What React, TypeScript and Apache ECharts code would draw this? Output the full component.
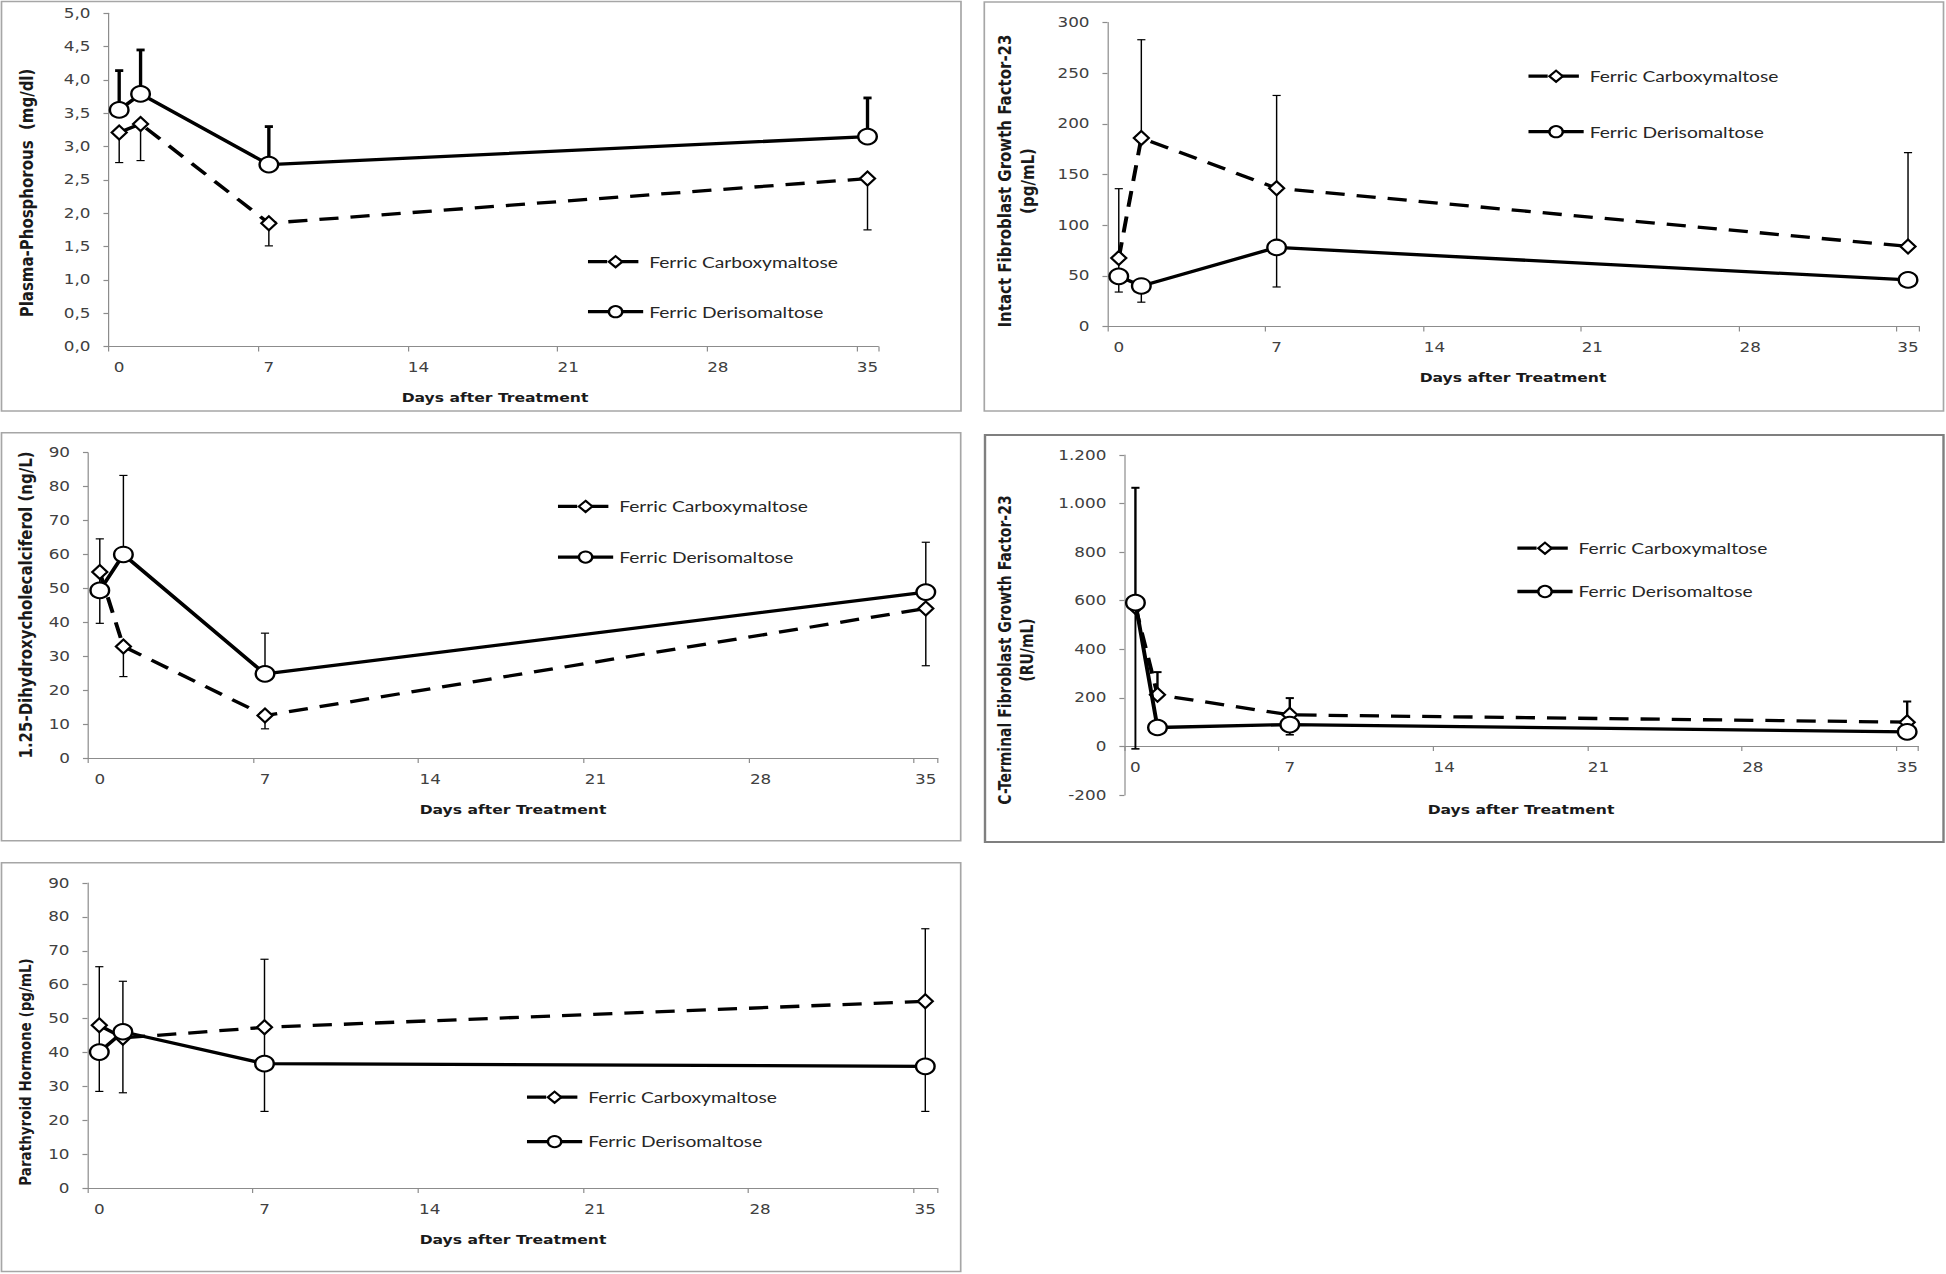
import React, { useEffect, useRef } from 'react';
import * as echarts from 'echarts';

// Horizontal stretch of the original figure (markers and glyphs are wider than tall)
const S = 1.2;
const W = 1621;
const H = 1274;
const X = (v: number) => v / S;

const FCM = 'Ferric Carboxymaltose';
const FDI = 'Ferric Derisomaltose';

// x axis: days 0..35 as categories, data measured on days 0, 1, 7, 35
const dayCategories = ['0','1','2','3','4','5','6','7','8','9','10','11','12','13','14','15','16','17','18','19','20','21','22','23','24','25','26','27','28','29','30','31','32','33','34','35'];
const days = [0, 1, 7, 35];

// Panel 1: Plasma-Phosphorous (mg/dl)
const phosAxis = [0, 5, 0.5];
const phosFcm = [3.21, 3.34, 1.85, 2.52];
const phosFcmLow = [2.76, 2.79, 1.51, 1.75];
const phosFcmHigh = [3.21, 3.34, 1.85, 2.52];
const phosFdi = [3.55, 3.79, 2.73, 3.15];
const phosFdiLow = [3.55, 3.79, 2.73, 3.15];
const phosFdiHigh = [4.14, 4.45, 3.30, 3.73];

// Panel 2: Intact FGF-23 (pg/mL)
const iFgfAxis = [0, 300, 50];
const iFgfFcm = [67.5, 186, 136.5, 79];
const iFgfFcmLow = [67.5, 186, 136.5, 79];
const iFgfFcmHigh = [136, 283, 228, 171.5];
const iFgfFdi = [49.5, 40, 78, 46];
const iFgfFdiLow = [34, 24, 39, 46];
const iFgfFdiHigh = [67.5, 40, 136.5, 46];

// Panel 3: 1.25-Dihydroxycholecalciferol (ng/L)
const vitdAxis = [0, 90, 10];
const vitdFcm = [54.8, 32.9, 12.5, 44.1];
const vitdFcmLow = [39.7, 24.0, 8.6, 27.2];
const vitdFcmHigh = [54.8, 32.9, 12.5, 44.1];
const vitdFdi = [49.4, 60.0, 24.8, 48.9];
const vitdFdiLow = [49.4, 60.0, 24.8, 48.9];
const vitdFdiHigh = [64.6, 83.3, 36.8, 63.6];

// Panel 4: C-Terminal FGF-23 (RU/mL)
const cFgfAxis = [-200, 1200, 200];
const cFgfFcm = [574, 213, 130, 100];
const cFgfFcmLow = [574, 213, 130, 100];
const cFgfFcmHigh = [1065, 306, 199, 185];
const cFgfFdi = [592, 78, 90, 60];
const cFgfFdiLow = [-10, 78, 48, 60];
const cFgfFdiHigh = [592, 78, 130, 60];

// Panel 5: Parathyroid Hormone (pg/mL)
const pthAxis = [0, 90, 10];
const pthFcm = [48, 44.3, 47.4, 55.1];
const pthFcmLow = [48, 44.3, 47.4, 55.1];
const pthFcmHigh = [65.3, 61.0, 67.5, 76.5];
const pthFdi = [40.1, 46.1, 36.7, 35.9];
const pthFdiLow = [28.5, 28.1, 22.6, 22.6];
const pthFdiHigh = [48, 46.1, 47.4, 55.1];

const comma1 = (v: number) => v.toFixed(1).replace('.', ',');
const thousandDot = (v: number) => String(v).replace(/\B(?=(\d{3})+(?!\d))/g, '.');
const plain = (v: number) => String(v);

type Panel = {
  yTitle: string;
  yTitleSize: number;
  axis: number[];
  fmt: (v: number) => string;
  fcm: number[]; fcmLow: number[]; fcmHigh: number[];
  fdi: number[]; fdiLow: number[]; fdiHigh: number[];
  fcmErrW: number; fdiErrW: number;
  // layout (full-size px)
  left: number; right: number; top: number; bottom: number;
  xAxisOffset: number;
  box: number[]; boxColor: string; boxW: number;
  yTitleX: number; yTitleY: number;
  xTitleX: number; xTitleY: number;
  legX: number; legY: number[];
};

const panels: Panel[] = [
  {
    yTitle: 'Plasma-Phosphorous  (mg/dl)', yTitleSize: 15, axis: phosAxis, fmt: comma1,
    fcm: phosFcm, fcmLow: phosFcmLow, fcmHigh: phosFcmHigh,
    fdi: phosFdi, fdiLow: phosFdiLow, fdiHigh: phosFdiHigh,
    fcmErrW: 1.2, fdiErrW: 2.8,
    left: 108.5, right: 878.2, top: 13.3, bottom: 346.5, xAxisOffset: 0,
    box: [1.5, 1.5, 961, 411], boxColor: '#a6a6a6', boxW: 1.4,
    yTitleX: 27, yTitleY: 193, xTitleX: 495, xTitleY: 397,
    legX: 586, legY: [261.7, 311.7],
  },
  {
    yTitle: 'Intact Fibroblast Growth Factor-23\n(pg/mL)', yTitleSize: 15, axis: iFgfAxis, fmt: plain,
    fcm: iFgfFcm, fcmLow: iFgfFcmLow, fcmHigh: iFgfFcmHigh,
    fdi: iFgfFdi, fdiLow: iFgfFdiLow, fdiHigh: iFgfFdiHigh,
    fcmErrW: 1.2, fdiErrW: 1.2,
    left: 1107.5, right: 1919.3, top: 22.5, bottom: 326.5, xAxisOffset: 0,
    box: [984.3, 2, 1943.5, 411], boxColor: '#a6a6a6', boxW: 1.4,
    yTitleX: 1016.5, yTitleY: 181, xTitleX: 1513, xTitleY: 377.5,
    legX: 1526.5, legY: [76.2, 131.7],
  },
  {
    yTitle: '1.25-Dihydroxycholecalciferol (ng/L)', yTitleSize: 15, axis: vitdAxis, fmt: plain,
    fcm: vitdFcm, fcmLow: vitdFcmLow, fcmHigh: vitdFcmHigh,
    fdi: vitdFdi, fdiLow: vitdFdiLow, fdiHigh: vitdFdiHigh,
    fcmErrW: 1.2, fdiErrW: 1.2,
    left: 88, right: 937.6, top: 452.7, bottom: 758, xAxisOffset: 0,
    box: [1.5, 432.7, 960.7, 840.7], boxColor: '#a6a6a6', boxW: 1.4,
    yTitleX: 26, yTitleY: 605, xTitleX: 513, xTitleY: 809,
    legX: 556, legY: [506.4, 557.1],
  },
  {
    yTitle: 'C-Terminal Fibroblast Growth Factor-23\n(RU/mL)', yTitleSize: 14, axis: cFgfAxis, fmt: thousandDot,
    fcm: cFgfFcm, fcmLow: cFgfFcmLow, fcmHigh: cFgfFcmHigh,
    fdi: cFgfFdi, fdiLow: cFgfFdiLow, fdiHigh: cFgfFdiHigh,
    fcmErrW: 2.0, fdiErrW: 1.6,
    left: 1124.4, right: 1918.2, top: 455, bottom: 795, xAxisOffset: -49,
    box: [985, 435, 1943.5, 842], boxColor: '#7f7f7f', boxW: 2,
    yTitleX: 1016.5, yTitleY: 650, xTitleX: 1521, xTitleY: 809.5,
    legX: 1515.4, legY: [548.2, 591.5],
  },
  {
    yTitle: 'Parathyroid Hormone (pg/mL)', yTitleSize: 13.5, axis: pthAxis, fmt: plain,
    fcm: pthFcm, fcmLow: pthFcmLow, fcmHigh: pthFcmHigh,
    fdi: pthFdi, fdiLow: pthFdiLow, fdiHigh: pthFdiHigh,
    fcmErrW: 1.2, fdiErrW: 1.2,
    left: 87.5, right: 937.1, top: 883, bottom: 1188, xAxisOffset: 0,
    box: [1.5, 862.7, 960.7, 1271.5], boxColor: '#a6a6a6', boxW: 1.4,
    yTitleX: 26, yTitleY: 1072, xTitleX: 513, xTitleY: 1239,
    legX: 525, legY: [1097.2, 1141.6],
  },
];

const AX = '#8c8c8c';
const TICK_FONT = 'DejaVu Sans';
const TICK_SIZE = 14;

function makeErr(width: number, cap: number) {
  return (params: any, api: any) => {
    const x = api.value(0);
    const lo = api.value(1);
    const hi = api.value(2);
    const v = api.value(3);
    if (hi - lo < 1e-9) return null;
    const pLo = api.coord([x, lo]);
    const pHi = api.coord([x, hi]);
    const st = { stroke: '#000', lineWidth: width };
    const children: any[] = [
      { type: 'line', shape: { x1: pLo[0], y1: pLo[1], x2: pHi[0], y2: pHi[1] }, style: st },
    ];
    if (lo < v) children.push({ type: 'line', shape: { x1: pLo[0] - cap, y1: pLo[1], x2: pLo[0] + cap, y2: pLo[1] }, style: st });
    if (hi > v) children.push({ type: 'line', shape: { x1: pHi[0] - cap, y1: pHi[1], x2: pHi[0] + cap, y2: pHi[1] }, style: st });
    return { type: 'group', children };
  };
}

function buildOption() {
  const grid: any[] = [];
  const xAxis: any[] = [];
  const yAxis: any[] = [];
  const series: any[] = [];
  const legend: any[] = [];
  const graphic: any[] = [];

  panels.forEach((p, i) => {
    grid.push({
      left: X(p.left), top: p.top,
      width: X(p.right - p.left), height: p.bottom - p.top,
      containLabel: false,
    });
    xAxis.push({
      type: 'category', gridIndex: i, data: dayCategories, boundaryGap: true,
      position: 'bottom', offset: p.xAxisOffset,
      axisLine: { show: true, onZero: false, lineStyle: { color: AX, width: 1.2 } },
      axisTick: { show: true, interval: 6, length: 5, lineStyle: { color: AX, width: 1 } },
      axisLabel: { interval: 6, margin: 14, fontFamily: TICK_FONT, fontSize: TICK_SIZE, color: '#404040' },
      splitLine: { show: false },
    });
    yAxis.push({
      type: 'value', gridIndex: i, min: p.axis[0], max: p.axis[1], interval: p.axis[2],
      axisLine: { show: true, lineStyle: { color: AX, width: 1 } },
      axisTick: { show: true, length: 4.2, lineStyle: { color: AX, width: 1.2 } },
      axisLabel: { formatter: p.fmt, margin: 15, fontFamily: TICK_FONT, fontSize: TICK_SIZE, color: '#404040' },
      splitLine: { show: false },
    });

    const fcmErrData = days.map((d, k) => [d, p.fcmLow[k], p.fcmHigh[k], p.fcm[k]]);
    const fdiErrData = days.map((d, k) => [d, p.fdiLow[k], p.fdiHigh[k], p.fdi[k]]);
    series.push({
      type: 'custom', name: 'fcm-err-' + i, xAxisIndex: i, yAxisIndex: i,
      data: fcmErrData, renderItem: makeErr(p.fcmErrW, 3.4), encode: { x: 0, y: [1, 2] },
      silent: true, z: 1,
    });
    series.push({
      type: 'custom', name: 'fdi-err-' + i, xAxisIndex: i, yAxisIndex: i,
      data: fdiErrData, renderItem: makeErr(p.fdiErrW, 3.4), encode: { x: 0, y: [1, 2] },
      silent: true, z: 1,
    });
    series.push({
      type: 'line', name: FCM, xAxisIndex: i, yAxisIndex: i,
      data: days.map((d, k) => [d, p.fcm[k]]),
      symbol: 'emptyDiamond', symbolSize: [12.5, 14], showAllSymbol: true,
      lineStyle: { color: '#000', width: 3.3, type: [16, 10] },
      itemStyle: { color: '#000' },
      z: 3,
    });
    series.push({
      type: 'line', name: FDI, xAxisIndex: i, yAxisIndex: i,
      data: days.map((d, k) => [d, p.fdi[k]]),
      symbol: 'emptyCircle', symbolSize: 15.5, showAllSymbol: true,
      lineStyle: { color: '#000', width: 3.3, type: 'solid' },
      itemStyle: { color: '#000' },
      z: 4,
    });

    [FCM, FDI].forEach((name, r) => {
      legend.push({
        show: true, orient: 'horizontal', padding: 0,
        left: X(p.legX), top: p.legY[r] - 8,
        itemWidth: 46, itemHeight: 14, selectedMode: false,
        data: [name],
        lineStyle: { width: 3.3 },
        textStyle: { fontFamily: 'Lato', fontSize: 16, color: '#262626' },
      });
    });

    graphic.push({
      type: 'rect', silent: true,
      shape: { x: X(p.box[0]), y: p.box[1], width: X(p.box[2] - p.box[0]), height: p.box[3] - p.box[1] },
      style: { fill: 'none', stroke: p.boxColor, lineWidth: p.boxW },
      z: 0,
    });
    graphic.push({
      type: 'text', silent: true, x: X(p.xTitleX), y: p.xTitleY,
      style: {
        text: 'Days after Treatment', fill: '#1a1a1a',
        font: 'bold 13px "DejaVu Sans"', align: 'center', verticalAlign: 'middle',
        textAlign: 'center', textVerticalAlign: 'middle',
      },
    });
    graphic.push({
      type: 'text', silent: true, x: X(p.yTitleX), y: p.yTitleY, rotation: Math.PI / 2,
      style: {
        text: p.yTitle, fill: '#1a1a1a', lineHeight: 18.8,
        font: `bold ${p.yTitleSize}px "DejaVu Sans"`, align: 'center', verticalAlign: 'middle',
        textAlign: 'center', textVerticalAlign: 'middle',
      },
    });
  });

  return {
    animation: false,
    backgroundColor: '#ffffff',
    grid, xAxis, yAxis, series, legend, graphic,
  };
}

export default function App() {
  const ref = useRef<HTMLDivElement>(null);
  useEffect(() => {
    document.documentElement.style.overflow = 'hidden';
    if (!ref.current) return;
    const chart = echarts.init(ref.current, undefined, { renderer: 'svg', width: W, height: H });
    chart.setOption(buildOption() as any);
    return () => chart.dispose();
  }, []);
  return (
    <div
      ref={ref}
      style={{
        position: 'absolute', left: 0, top: 0, width: W + 'px', height: H + 'px',
        transform: `scaleX(${S})`, transformOrigin: '0 0', background: '#fff',
      }}
    />
  );
}
